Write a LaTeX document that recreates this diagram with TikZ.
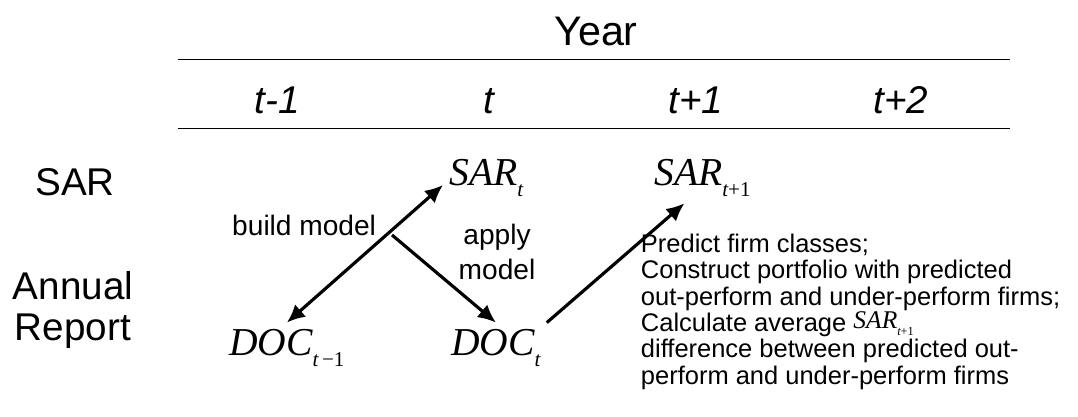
\documentclass[tikz,border=0pt]{standalone}
\usepackage{fontspec}
\setmainfont{Liberation Sans}
\newfontfamily\tms{Liberation Serif}
% variable with a lowered subscript: {name}{subscript}{subscript size}
\newcommand{\tvar}[3]{{\tms\itshape #1}\raisebox{-0.3em}{\tms\fontsize{#3}{#3}\selectfont #2}}
\usetikzlibrary{
  arrows.meta,
  calc,
  positioning
}

\begin{document}
\begin{tikzpicture}[x=0.2mm, y=-0.2mm]

\tikzset{
  header/.style={
    font=\fontsize{23.5}{24}\selectfont,
    anchor=base,
    inner sep=0pt
},
  yearlab/.style={
    font=\fontsize{22}{23}\selectfont\itshape,
    anchor=base,
    inner sep=0pt
},
  rowlab/.style={
    align=center,
    font=\fontsize{22}{23}\selectfont,
    inner sep=0pt
},
  docvar/.style={
    font=\fontsize{22.5}{23}\selectfont,
    anchor=base west,
    inner sep=3pt
},
  steplab/.style={
    align=center,
    font=\fontsize{16}{20}\selectfont,
    inner sep=0pt
},
  note/.style={
    align=left,
    anchor=north west,
    font=\fontsize{14.5}{15}\selectfont,
    inner sep=0pt
},
  >={Latex[length=3.6mm, width=3.3mm]},
  line width=1.1pt
}

\useasboundingbox (0,0) rectangle (1078,416);

% NODES ----------------------------------------------------------

% Header: year + time steps
\node[header] (year) at (596,45) {Year};
\node[yearlab] (tprev)    at (277,113) {t-1};
\node[yearlab] (tnow)     at (489,113) {t};
\node[yearlab] (tnext)    at (696,113) {t+1};
\node[yearlab] (tnextnext) at (901,113) {t+2};

% Row labels
\node[rowlab, anchor=base] (sarrow) at (75,195) {SAR};
\node[rowlab] (reportrow) at (73,310) {Annual\\Report};

% Variables
\node[docvar] (sart)    at (443,185) {\tvar{SAR}{\itshape t}{12}};
\node[docvar] (sartone) at (648,185) {\tvar{SAR}{{\itshape t}+1}{12}};
\node[docvar] (docprev) at (223,355) {\tvar{DOC}{{\itshape t}\,−1}{12}};
\node[docvar] (doct)    at (445,355) {\tvar{DOC}{\itshape t}{12}};

% Step labels
\node[steplab, anchor=base east] (buildlab) at (377,235) {build model};
\node[steplab] (applylab) at (497,252) {apply\\model};
\node[note] (predlab) at (640,233) {Predict firm classes;\\
  Construct portfolio with predicted\\
  out-perform and under-perform firms;\\
  Calculate average \raisebox{2pt}{\tvar{SAR}{{\itshape t}+1}{7}}\\
  difference between predicted out-\\
  perform and under-perform firms};

\coordinate (split) at (392,235);

% DRAWS ---------------------------------------------------------

% Rules of the header
\draw (178,59) -- (1010,59);
\draw (178,128) -- (1010,128);

% Arrows between report and SAR
\draw[<->, line width=1.8pt] (docprev.north) -- (sart.base west);
\draw[->, line width=1.8pt] (split) -- (doct.north);
\draw[->, line width=1.8pt] (doct.north east) -- ($(sartone.south)+(-18,0)$);

\end{tikzpicture}
\end{document}
